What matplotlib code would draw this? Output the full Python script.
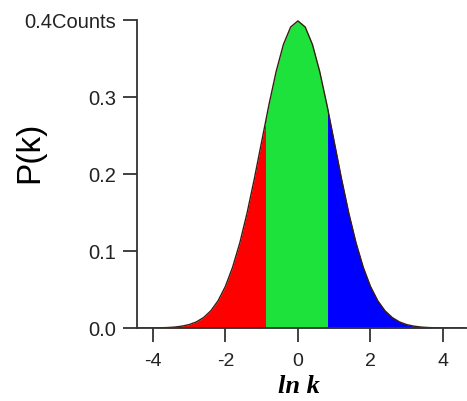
"""Distribution of ln k, split into three shaded bands."""

import matplotlib
matplotlib.use("Agg")
import matplotlib.pyplot as plt
from matplotlib.patches import Rectangle

# density of ln k, sampled every 0.2
LN_K = [-4.4, -4.2, -4.0, -3.8, -3.6, -3.4, -3.2, -3.0, -2.8, -2.6, -2.4, -2.2,
        -2.0, -1.8, -1.6, -1.4, -1.2, -1.0, -0.8, -0.6, -0.4, -0.2, 0.0,
        0.2, 0.4, 0.6, 0.8, 1.0, 1.2, 1.4, 1.6, 1.8, 2.0, 2.2, 2.4, 2.6,
        2.8, 3.0, 3.2, 3.4, 3.6, 3.8, 4.0, 4.2, 4.4, 4.6]
P_K = [0.0, 0.0, 0.0001, 0.0003, 0.0006, 0.0012, 0.0024, 0.0044, 0.0079, 0.0136,
       0.0224, 0.0355, 0.054, 0.079, 0.1109, 0.1497, 0.1942, 0.242, 0.2897,
       0.3332, 0.3683, 0.391, 0.3989,
       0.391, 0.3683, 0.3332, 0.2897, 0.242, 0.1942, 0.1497, 0.1109, 0.079,
       0.054, 0.0355, 0.0224, 0.0136, 0.0079, 0.0044, 0.0024, 0.0012, 0.0006,
       0.0003, 0.0001, 0.0, 0.0, 0.0]

# band edges and colours
BAND_EDGES = [-4.5, -0.87, 0.83, 4.7]
BAND_COLORS = ["#ff0000", "#1ee23c", "#0000ff"]

Y_TICKS = [0.0, 0.1, 0.2, 0.3, 0.4]
Y_TICK_LABELS = ["0.0", "0.1", "0.2", "0.3", "0.4Counts"]
X_TICKS = [-4, -2, 0, 2, 4]
X_TICK_LABELS = ["-4", "-2", "0", "2", "4"]


def main() -> None:
    plt.rcParams["font.family"] = ["Liberation Sans", "DejaVu Sans"]
    fig = plt.figure(figsize=(4.67, 4.01), dpi=100)
    ax = fig.add_axes([0.293, 0.182, 0.707, 0.768])

    for lo, hi, color in zip(BAND_EDGES[:-1], BAND_EDGES[1:], BAND_COLORS):
        band = ax.fill_between(LN_K, P_K, 0, color=color, linewidth=0)
        band.set_clip_path(Rectangle((lo, 0), hi - lo, 1, transform=ax.transData))

    ax.plot(LN_K, P_K, color="#3a1c12", linewidth=1.0)

    ax.set_xlim(-4.44, 4.66)
    ax.set_ylim(0, 0.4)

    ax.spines["top"].set_visible(False)
    ax.spines["right"].set_visible(False)
    for side in ("left", "bottom"):
        ax.spines[side].set_color("#333333")
        ax.spines[side].set_linewidth(1.3)

    ax.set_yticks(Y_TICKS)
    ax.set_yticklabels(Y_TICK_LABELS)
    ax.set_xticks(X_TICKS)
    ax.set_xticklabels(X_TICK_LABELS)
    ax.tick_params(axis="y", direction="out", length=10, width=1.3,
                   color="#333333", labelsize=14.5, pad=5, labelcolor="#222222")
    ax.tick_params(axis="x", direction="out", length=10, width=1.3,
                   color="#333333", labelsize=14, pad=8, labelcolor="#222222")

    ax.set_ylabel("P(k)", fontsize=24, va="center")
    ax.yaxis.set_label_coords(-0.324, 0.571)
    ax.set_xlabel("ln k", fontsize=19, family=["Liberation Serif", "DejaVu Serif"],
                  fontweight="bold", fontstyle="italic", va="center")
    ax.xaxis.set_label_coords(0.49, -0.19)

    fig.savefig("out.png", dpi=100)
    plt.close(fig)


if __name__ == "__main__":
    main()
